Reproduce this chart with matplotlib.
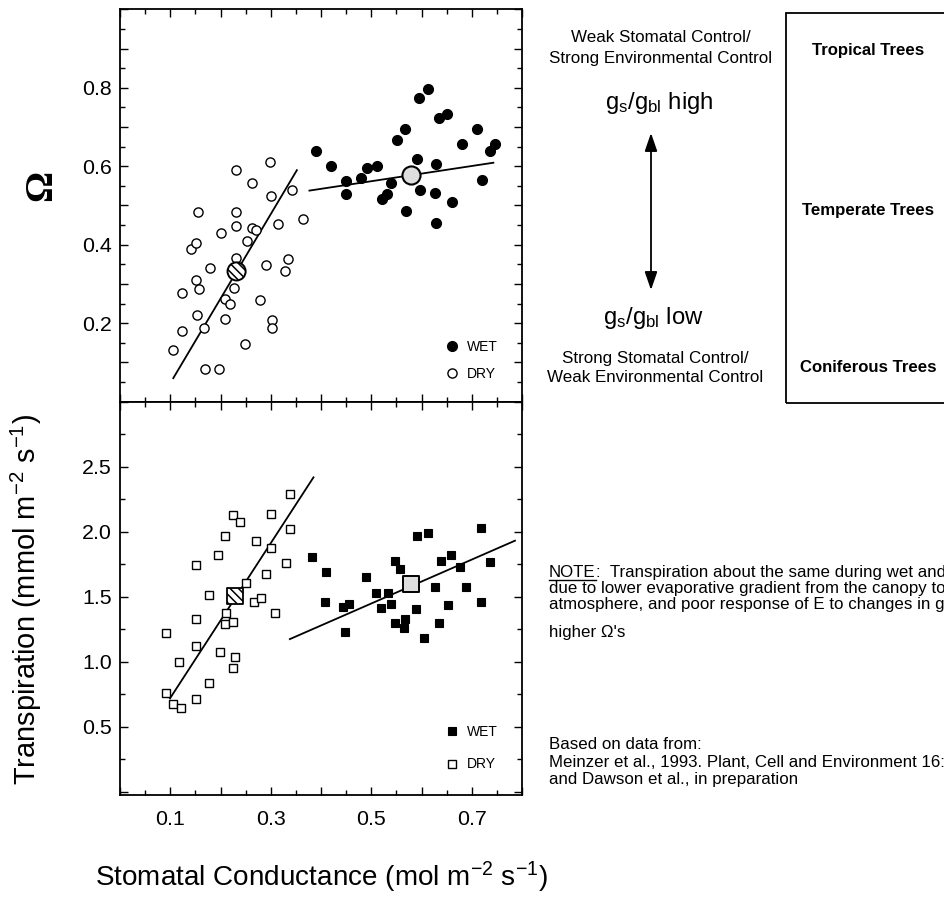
import matplotlib
matplotlib.use("Agg")
import matplotlib.pyplot as plt
from matplotlib import font_manager
from matplotlib.patches import FancyArrowPatch, Rectangle
from matplotlib.lines import Line2D
from matplotlib.ticker import MultipleLocator, FuncFormatter

# ---------------- data ----------------
# Omega vs stomatal conductance, wet season
omega_wet_gs = [0.391, 0.420, 0.450, 0.450, 0.479, 0.491, 0.512, 0.521, 0.531, 0.539,
                0.551, 0.568, 0.570, 0.592, 0.595, 0.612, 0.597, 0.629, 0.627, 0.629,
                0.635, 0.651, 0.661, 0.680, 0.710, 0.720, 0.736, 0.746]
omega_wet = [0.638, 0.600, 0.562, 0.529, 0.569, 0.596, 0.600, 0.517, 0.529, 0.557,
             0.668, 0.696, 0.487, 0.619, 0.774, 0.797, 0.539, 0.607, 0.532, 0.455,
             0.723, 0.734, 0.509, 0.657, 0.695, 0.564, 0.638, 0.658]

# Omega vs stomatal conductance, dry season
omega_dry_gs = [0.105, 0.123, 0.123, 0.141, 0.151, 0.151, 0.153, 0.157, 0.156, 0.167,
                0.169, 0.180, 0.197, 0.201, 0.209, 0.209, 0.219, 0.226, 0.231, 0.231,
                0.231, 0.231, 0.249, 0.252, 0.262, 0.262, 0.270, 0.279, 0.290, 0.299,
                0.300, 0.302, 0.302, 0.315, 0.328, 0.335, 0.342, 0.364]
omega_dry = [0.132, 0.278, 0.180, 0.389, 0.404, 0.309, 0.220, 0.287, 0.484, 0.187,
             0.083, 0.340, 0.083, 0.431, 0.261, 0.210, 0.249, 0.291, 0.366, 0.447,
             0.483, 0.591, 0.146, 0.409, 0.557, 0.443, 0.438, 0.260, 0.349, 0.610,
             0.523, 0.207, 0.187, 0.454, 0.334, 0.364, 0.540, 0.466]

omega_mean_gs = {"wet": 0.579, "dry": 0.232}
omega_mean = {"wet": 0.577, "dry": 0.332}
omega_fit_wet = ([0.377, 0.743], [0.538, 0.609])
omega_fit_dry = ([0.106, 0.352], [0.060, 0.590])

# Transpiration vs stomatal conductance, wet season
trans_wet_gs = [0.383, 0.409, 0.407, 0.443, 0.456, 0.448, 0.489, 0.509, 0.519, 0.533,
                0.539, 0.547, 0.557, 0.547, 0.566, 0.568, 0.589, 0.592, 0.612, 0.604,
                0.627, 0.635, 0.638, 0.659, 0.653, 0.677, 0.689, 0.718, 0.718, 0.736]
trans_wet = [1.808, 1.692, 1.456, 1.418, 1.444, 1.226, 1.649, 1.531, 1.410, 1.526,
             1.444, 1.774, 1.713, 1.295, 1.256, 1.326, 1.405, 1.967, 1.987, 1.179,
             1.572, 1.300, 1.777, 1.821, 1.436, 1.731, 1.572, 2.031, 1.456, 1.764]

# Transpiration vs stomatal conductance, dry season
trans_dry_gs = [0.092, 0.092, 0.105, 0.121, 0.117, 0.151, 0.151, 0.151, 0.151, 0.178,
                0.178, 0.196, 0.199, 0.208, 0.208, 0.211, 0.224, 0.224, 0.224, 0.229,
                0.239, 0.250, 0.267, 0.271, 0.280, 0.291, 0.300, 0.300, 0.308, 0.330,
                0.338, 0.338]
trans_dry = [1.218, 0.756, 0.672, 0.641, 1.000, 1.744, 1.328, 1.123, 0.713, 1.513,
             0.838, 1.821, 1.077, 1.969, 1.290, 1.377, 1.308, 2.128, 0.954, 1.033,
             2.077, 1.603, 1.456, 1.931, 1.487, 1.672, 2.136, 1.877, 1.377, 1.762,
             2.021, 2.290]

trans_mean_gs = {"wet": 0.580, "dry": 0.229}
trans_mean = {"wet": 1.595, "dry": 1.505}
trans_fit_wet = ([0.338, 0.786], [1.174, 1.931])
trans_fit_dry = ([0.0995, 0.385], [0.718, 2.418])

x_tick_labels = ["0.1", "0.3", "0.5", "0.7"]
omega_tick_labels = ["0.2", "0.4", "0.6", "0.8"]
trans_tick_labels = ["0.5", "1.0", "1.5", "2.0", "2.5"]

# ---------------- fonts ----------------
_installed = {f.name for f in font_manager.fontManager.ttflist}
if "Liberation Sans Narrow" in _installed:
    NARROW, K = "Liberation Sans Narrow", 1.0
else:
    NARROW, K = "Liberation Sans", 0.82
plt.rcParams["font.family"] = [NARROW, "DejaVu Sans"]
plt.rcParams["mathtext.fontset"] = "custom"
plt.rcParams["mathtext.rm"] = NARROW
plt.rcParams["mathtext.it"] = NARROW + ":italic"
plt.rcParams["mathtext.bf"] = NARROW + ":bold"
plt.rcParams["hatch.linewidth"] = 1.1
REG = ["Liberation Sans", "DejaVu Sans"]

W, H = 945, 897
fig = plt.figure(figsize=(W / 100, H / 100), dpi=100)
fig.patch.set_facecolor("white")


def fx(px):
    return px / W


def fy(py):
    return 1 - py / H


L, R, T, MID, B = 120, 522, 9.3, 401.7, 795
ax1 = fig.add_axes([fx(L), fy(MID), fx(R) - fx(L), fy(T) - fy(MID)])
ax2 = fig.add_axes([fx(L), fy(B), fx(R) - fx(L), fy(MID) - fy(B)])

for ax in (ax1, ax2):
    ax.set_xlim(0, 0.8)
    for s in ax.spines.values():
        s.set_linewidth(1.3)
    ax.xaxis.set_major_locator(MultipleLocator(0.1))
    ax.xaxis.set_minor_locator(MultipleLocator(0.05))
    ax.tick_params(which="both", direction="in", top=True, right=True,
                   width=1.0, colors="black")
    ax.tick_params(which="major", length=5.5)
    ax.tick_params(which="minor", length=3.5)


def only(labels):
    return FuncFormatter(lambda v, p: next((l for l in labels if abs(float(l) - v) < 1e-6), ""))


TICK_FS = 18.8 * K

# ---------------- top panel: Omega ----------------
ax1.set_ylim(0, 1.0)
ax1.yaxis.set_major_locator(MultipleLocator(0.1))
ax1.yaxis.set_minor_locator(MultipleLocator(0.05))
ax1.yaxis.set_major_formatter(only(omega_tick_labels))
ax1.tick_params(labelbottom=False, labelsize=TICK_FS, pad=6)

ax1.plot(*omega_fit_dry, color="black", lw=1.3, zorder=2)
ax1.plot(*omega_fit_wet, color="black", lw=1.3, zorder=2)
h_dry = ax1.plot(omega_dry_gs, omega_dry, "o", ms=6.6, mfc="white", mec="black",
                 mew=1.0, zorder=3)[0]
h_wet = ax1.plot(omega_wet_gs, omega_wet, "o", ms=7.2, mfc="black", mec="black",
                 mew=0.8, zorder=3)[0]
ax1.scatter([omega_mean_gs["dry"]], [omega_mean["dry"]], s=170, marker="o",
            facecolor="white", edgecolor="black", hatch="\\\\\\\\", linewidths=1.4, zorder=4)
ax1.scatter([omega_mean_gs["wet"]], [omega_mean["wet"]], s=170, marker="o",
            facecolor="#dedede", edgecolor="black", linewidths=1.5, zorder=4)
ax1.legend([h_wet, h_dry], ["WET", "DRY"], loc="lower right",
           bbox_to_anchor=(0.94, 0.052), frameon=False, fontsize=12.2 * K,
           handlelength=1.0, handletextpad=0.6, labelspacing=0.95,
           borderpad=0, borderaxespad=0, numpoints=1)
ax1.set_ylabel("Ω", fontsize=28, family=["Liberation Serif", "DejaVu Serif"],
               fontweight="bold", rotation=90, va="center", ha="center")
ax1.yaxis.set_label_coords(-0.195, 0.55)

# ---------------- bottom panel: transpiration ----------------
ax2.set_ylim(-0.025, 3.0)
ax2.yaxis.set_major_locator(MultipleLocator(0.5))
ax2.yaxis.set_minor_locator(MultipleLocator(0.25))
ax2.yaxis.set_major_formatter(only(trans_tick_labels))
ax2.xaxis.set_major_formatter(only(x_tick_labels))
ax2.tick_params(axis="y", labelsize=TICK_FS, pad=6)
ax2.tick_params(axis="x", labelsize=TICK_FS, pad=11)

ax2.plot(*trans_fit_dry, color="black", lw=1.3, zorder=2)
ax2.plot(*trans_fit_wet, color="black", lw=1.3, zorder=2)
s_dry = ax2.plot(trans_dry_gs, trans_dry, "s", ms=6.0, mfc="white", mec="black",
                 mew=1.0, zorder=3)[0]
s_wet = ax2.plot(trans_wet_gs, trans_wet, "s", ms=6.4, mfc="black", mec="black",
                 mew=0.8, zorder=3)[0]
ax2.scatter([trans_mean_gs["dry"]], [trans_mean["dry"]], s=135, marker="s",
            facecolor="white", edgecolor="black", hatch="\\\\\\\\", linewidths=1.3, zorder=4)
ax2.scatter([trans_mean_gs["wet"]], [trans_mean["wet"]], s=135, marker="s",
            facecolor="#dedede", edgecolor="black", linewidths=1.4, zorder=4)
ax2.legend([s_wet, s_dry], ["WET", "DRY"], loc="lower right",
           bbox_to_anchor=(0.94, 0.06), frameon=False, fontsize=12.2 * K,
           handlelength=1.0, handletextpad=0.6, labelspacing=1.3,
           borderpad=0, borderaxespad=0, numpoints=1)

ax2.set_ylabel("Transpiration (mmol m$^{\\mathregular{-2}}$ s$^{\\mathregular{-1}}$)",
               fontsize=25.5 * K, va="center", ha="center")
ax2.yaxis.set_label_coords(-0.232, 0.496)
ax2.set_xlabel("Stomatal Conductance (mol m$^{\\mathregular{-2}}$ s$^{\\mathregular{-1}}$)",
               fontsize=24.5 * K, va="baseline", ha="center")
ax2.xaxis.set_label_coords(0.5, -0.232)

# ---------------- right-hand annotations ----------------
fig.text(fx(661), fy(38), "Weak Stomatal Control/", fontsize=14.9 * K, ha="center", va="center")
fig.text(fx(661), fy(58), "Strong Environmental Control", fontsize=14.9 * K, ha="center", va="center")
fig.text(fx(659), fy(103), r"$\mathregular{g_{s}/g_{bl}}$ high", fontsize=21 * K,
         ha="center", va="center")
fig.add_artist(FancyArrowPatch((fx(651), fy(290)), (fx(651), fy(133)),
                               transform=fig.transFigure, mutation_scale=20,
                               arrowstyle="<|-|>,head_length=0.55,head_width=0.19",
                               lw=1.3, color="black", shrinkA=0, shrinkB=0))
fig.text(fx(653), fy(318), r"$\mathregular{g_{s}/g_{bl}}$ low", fontsize=21 * K,
         ha="center", va="center")
fig.text(fx(655), fy(358), "Strong Stomatal Control/", fontsize=14.9 * K, ha="center", va="center")
fig.text(fx(655), fy(378), "Weak Environmental Control", fontsize=14.9 * K, ha="center", va="center")

fig.add_artist(Rectangle((fx(786), fy(403)), 0.4, fy(12.7) - fy(403),
                         transform=fig.transFigure, fill=False, lw=1.3,
                         edgecolor="black"))
for label, ypx in [("Tropical Trees", 50), ("Temperate Trees", 210), ("Coniferous Trees", 368)]:
    fig.text(fx(868), fy(ypx), label, fontsize=14.7 * K, fontweight="bold",
             ha="center", va="center")

# note with underlined heading
NOTE_X = 549
note_fs = 12.2
t_note = fig.text(fx(NOTE_X), fy(577), "NOTE", fontsize=note_fs, family=REG,
                  ha="left", va="baseline")
fig.canvas.draw()
bb = t_note.get_window_extent(renderer=fig.canvas.get_renderer())
fig.text(bb.x1 / W, fy(577), ":  Transpiration about the same during wet and",
         fontsize=note_fs, family=REG, ha="left", va="baseline")
fig.add_artist(Line2D([bb.x0 / W, bb.x1 / W], [fy(579.5), fy(579.5)],
                      transform=fig.transFigure, color="black", lw=1.0))
for line, ypx in [("due to lower evaporative gradient from the canopy to", 593),
                  ("atmosphere, and poor response of E to changes in g", 609),
                  ("higher Ω's", 637),
                  ("Based on data from:", 749),
                  ("Meinzer et al., 1993. Plant, Cell and Environment 16:", 767),
                  ("and Dawson et al., in preparation", 784)]:
    fig.text(fx(NOTE_X), fy(ypx), line, fontsize=note_fs, family=REG,
             ha="left", va="baseline")

fig.savefig("out.png", dpi=100, facecolor="white")
